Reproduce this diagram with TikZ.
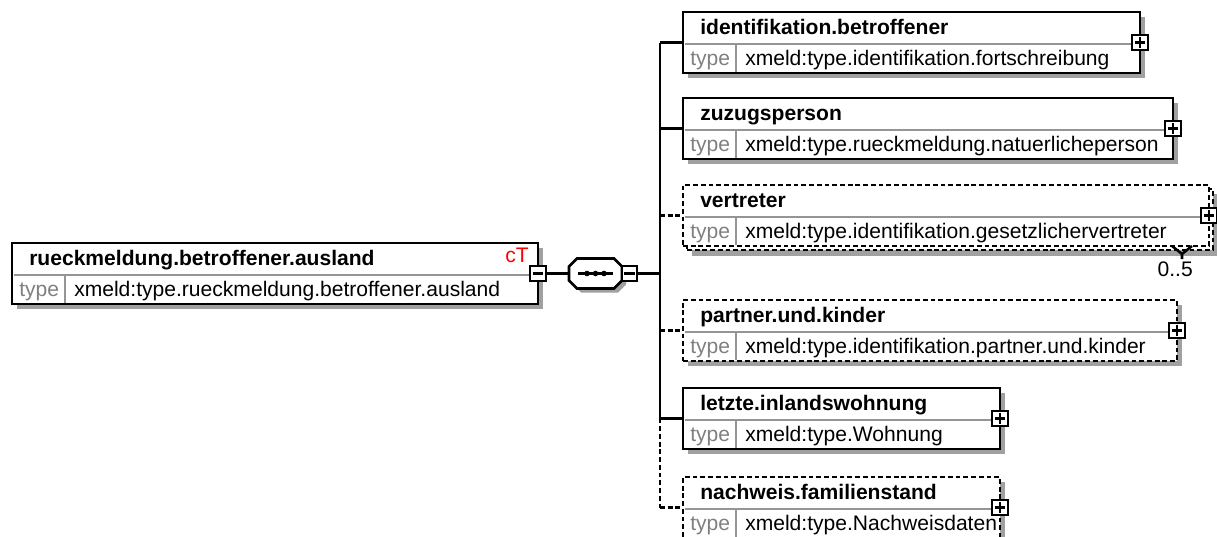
\documentclass[tikz,border=0pt]{standalone}
\usepackage{fontspec}
\setmainfont{Liberation Sans}
\definecolor{shadowgray}{HTML}{A0A0A0}
\definecolor{divgray}{HTML}{959595}
\definecolor{typegray}{HTML}{808080}
\tikzset{
  ebox/.style={draw=black, line width=1.9pt, fill=white, anchor=north west, inner sep=0pt, outer sep=0pt, minimum height=45.75pt},
  optbox/.style={dash pattern=on 3.6pt off 2.2pt},
  shad/.style={fill=shadowgray, draw=none},
  divl/.style={draw=divgray, line width=1.5pt},
  conn/.style={line width=1.8pt, draw=black},
  optconn/.style={conn, dash pattern=on 3.6pt off 2.2pt},
  nametext/.style={font=\bfseries\fontsize{15.8}{18}\selectfont, anchor=base west, inner sep=0pt},
  typelbl/.style={font=\fontsize{15.8}{18}\selectfont, text=typegray, anchor=base west, inner sep=0pt},
  typeval/.style={font=\fontsize{15.8}{18}\selectfont, anchor=base west, inner sep=0pt},
  pmbox/.style={draw=black, line width=1.8pt, fill=white, minimum size=11.6pt, inner sep=0pt, outer sep=0pt},
  pmline/.style={line width=1.8pt}
}
\newcommand\xelemns[7]{%
  \node[ebox,#7,minimum width={(#4-#2)*0.75pt}] (#1) at (#2,#3) {};
  \draw[divl] (#2+1.5,#3+32) -- (#4-1.5,#3+32);
  \draw[divl] (#2+53,#3+32) -- (#2+53,#3+60);
  \node[nametext] (#1-n) at (#2+17,#3+22) {#5};
  \node[typelbl] (#1-t) at (#2+7,#3+53) {type};
  \node[typeval] (#1-v) at (#2+62,#3+53) {#6};
}
\newcommand\xelem[7]{%
  \fill[shad] (#2+5,#3+5) rectangle (#4+5,#3+66);
  \xelemns{#1}{#2}{#3}{#4}{#5}{#6}{#7}%
}
\newcommand\plusbox[1]{%
  \node[pmbox] (#1-p) at (#1.east) {};
  \draw[pmline] ([xshift=-3.8pt]#1-p.center) -- ([xshift=3.8pt]#1-p.center)
                ([yshift=-3.8pt]#1-p.center) -- ([yshift=3.8pt]#1-p.center);
}
\begin{document}
\begin{tikzpicture}[x=0.75pt,y=-0.75pt]
\path[use as bounding box] (0,0) rectangle (1217,536);
\clip (0,0) rectangle (1217,536);

% main element
\xelem{main}{12}{243}{538}{rueckmeldung.betroffener.ausland}{xmeld:type.rueckmeldung.betroffener.ausland}{}
\node[typeval, anchor=base east, text=red] (ct) at (529,262) {cT};
\node[pmbox] (main-p) at (main.east) {};
\draw[pmline] ([xshift=-3.8pt]main-p.center) -- ([xshift=3.8pt]main-p.center);

% sequence compositor
\node[inner sep=0pt, outer sep=0pt, minimum width=39.75pt, minimum height=22.5pt] (seq) at (595.5,273.5) {};
\fill[shad] (581,262.5) -- (618,262.5) -- (626,270.5) -- (626,284.5) -- (618,292.5) -- (581,292.5) -- (573,284.5) -- (573,270.5) -- cycle;
\draw[line width=1.9pt, fill=white] (577,258.5) -- (614,258.5) -- (622,266.5) -- (622,280.5) -- (614,288.5) -- (577,288.5) -- (569,280.5) -- (569,266.5) -- cycle;
\draw[line width=1.8pt] (578,273.5) -- (613,273.5);
\foreach \dx in {587,595.5,604} \fill (\dx,273.5) circle (2.8);
\node[pmbox] (seqm) at (629.5,273.5) {};
\draw[pmline] ([xshift=-3.8pt]seqm.center) -- ([xshift=3.8pt]seqm.center);
\draw[conn] (main-p.east) -- (seq.west);

% children
\xelem{c1}{683}{12}{1140}{identifikation.betroffener}{xmeld:type.identifikation.fortschreibung}{}
\plusbox{c1}
\xelem{c2}{683}{98}{1173}{zuzugsperson}{xmeld:type.rueckmeldung.natuerlicheperson}{}
\plusbox{c2}
% vertreter (0..5, stacked)
\fill[shad] (692,194) rectangle (1218,256);
\node[ebox,optbox,minimum width={(1209-683)*0.75pt}] (c3b) at (687,189) {};
\xelemns{c3}{683}{185}{1209}{vertreter}{xmeld:type.identifikation.gesetzlichervertreter}{optbox}
\plusbox{c3}
\draw[line width=1.9pt] (1172,246) -- (1182,254) -- (1192,246) (1182,254) -- (1182,259);
\node[typeval, anchor=base east] (mult) at (1193,276) {0..5};
\xelem{c4}{683}{300}{1177}{partner.und.kinder}{xmeld:type.identifikation.partner.und.kinder}{optbox}
\plusbox{c4}
\xelem{c5}{683}{388}{1000}{letzte.inlandswohnung}{xmeld:type.Wohnung}{}
\plusbox{c5}
\xelem{c6}{683}{477}{1000}{nachweis.familienstand}{xmeld:type.Nachweisdaten}{optbox}
\plusbox{c6}

% trunk and connectors
\coordinate (tk) at (660,0);
\draw[conn] (seqm.east) -- (tk |- seqm.east);
\draw[conn] (tk |- c1.west) -- (tk |- c5.west);
\draw[optconn] (tk |- c5.west) -- (tk |- c6.west);
\draw[conn] (tk |- c1.west) -- (c1.west);
\draw[conn] (tk |- c2.west) -- (c2.west);
\draw[optconn] (tk |- c3.west) -- (c3.west);
\draw[optconn] (tk |- c4.west) -- (c4.west);
\draw[conn] (tk |- c5.west) -- (c5.west);
\draw[optconn] (tk |- c6.west) -- (c6.west);
\end{tikzpicture}
\end{document}
